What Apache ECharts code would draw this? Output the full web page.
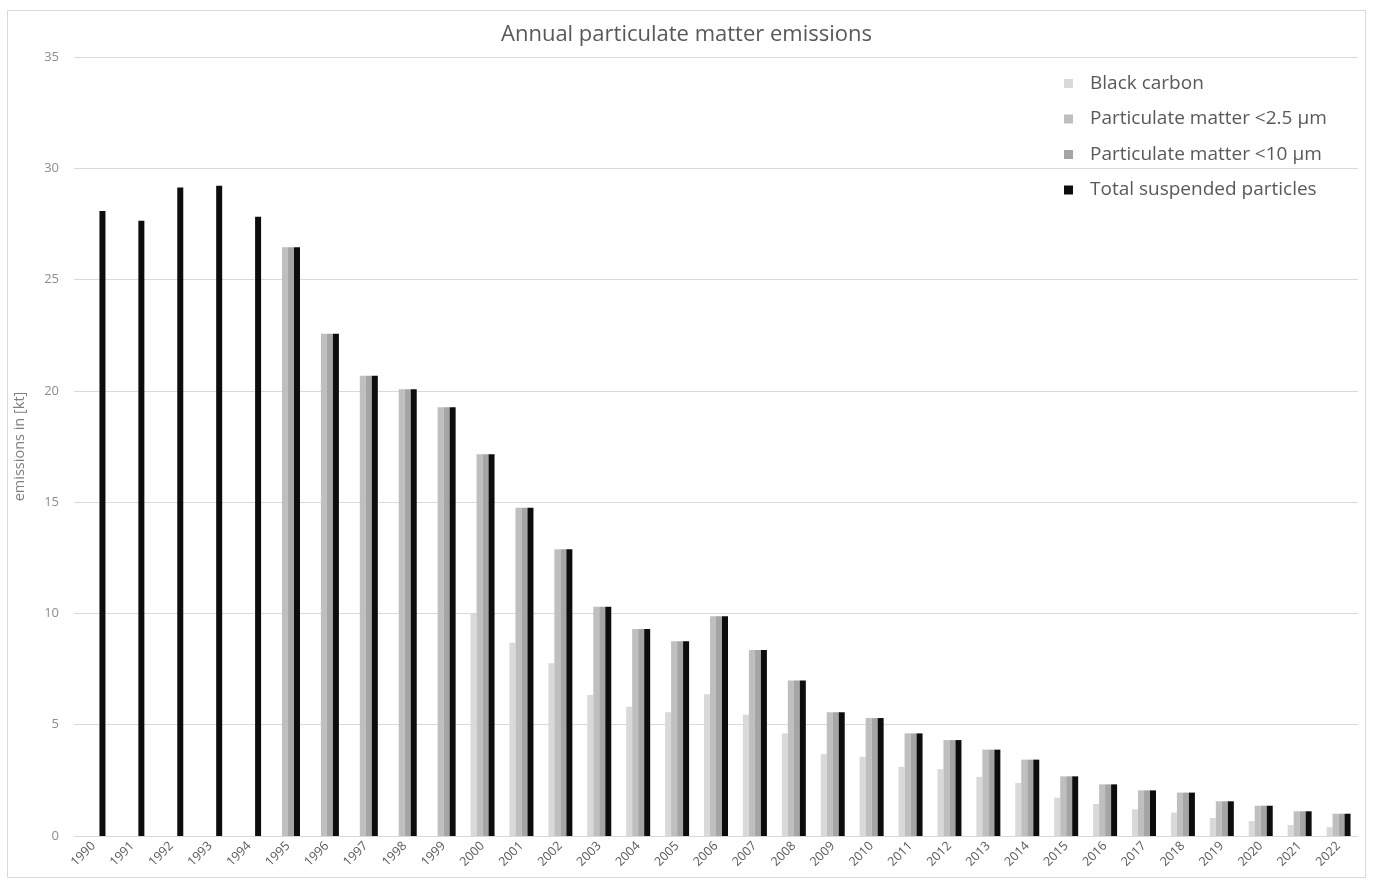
<!DOCTYPE html>
<html>
<head>
<meta charset="utf-8">
<script src="https://cdn.jsdelivr.net/npm/echarts@6/dist/echarts.min.js"></script>
<style>
html,body{margin:0;padding:0;background:#fff;}
#chart{width:1373px;height:881px;}
</style>
</head>
<body>
<div id="chart"></div>
<script>
const years = ['1990','1991','1992','1993','1994','1995','1996','1997','1998','1999','2000','2001','2002','2003','2004','2005','2006','2007','2008','2009','2010','2011','2012','2013','2014','2015','2016','2017','2018','2019','2020','2021','2022'];
const seriesNames = ['Black carbon','Particulate matter <2.5 µm','Particulate matter <10 µm','Total suspended particles'];
const blackCarbon = [null,null,null,null,null,null,null,null,null,null,10.0,8.68,7.76,6.33,5.81,5.56,6.37,5.45,4.61,3.68,3.56,3.11,3.00,2.66,2.38,1.72,1.44,1.20,1.05,0.81,0.67,0.49,0.40];
const pm25 = [null,null,null,null,null,26.45,22.57,20.68,20.07,19.26,17.15,14.75,12.88,10.30,9.30,8.75,9.87,8.36,6.99,5.56,5.30,4.61,4.31,3.88,3.43,2.68,2.32,2.05,1.95,1.56,1.36,1.11,1.00];
const pm10 = [null,null,null,null,null,26.45,22.57,20.68,20.07,19.26,17.15,14.75,12.88,10.30,9.30,8.75,9.87,8.36,6.99,5.56,5.30,4.61,4.31,3.88,3.43,2.68,2.32,2.05,1.95,1.56,1.36,1.11,1.00];
const tsp = [28.08,27.64,29.14,29.21,27.82,26.45,22.57,20.68,20.07,19.26,17.15,14.75,12.88,10.30,9.30,8.75,9.87,8.36,6.99,5.56,5.30,4.61,4.31,3.88,3.43,2.68,2.32,2.05,1.95,1.56,1.36,1.11,1.00];
const yTicks = {min: 0, max: 35, interval: 5};

const colors = ['#d9d9d9','#bfbfbf','#a5a5a5','#0d0d0d'];
const dataSets = [blackCarbon, pm25, pm10, tsp];
const FONT = '"Open Sans", "Noto Sans", sans-serif';

const chart = echarts.init(document.getElementById('chart'), null, {renderer: 'canvas'});
chart.setOption({
  backgroundColor: '#ffffff',
  animation: false,
  color: colors,
  title: {
    text: 'Annual particulate matter emissions',
    left: 'center',
    top: 19,
    textStyle: {fontFamily: FONT, fontSize: 22, fontWeight: 'normal', color: '#595959'}
  },
  legend: {
    orient: 'vertical',
    left: 1059,
    top: 68,
    itemWidth: 9,
    itemHeight: 9,
    itemGap: 14.5,
    icon: 'rect',
    data: seriesNames,
    textStyle: {fontFamily: FONT, fontSize: 19, color: '#595959', padding: [0,0,0,12], lineHeight: 21}
  },
  graphic: [{
    type: 'rect',
    shape: {x: 7.5, y: 10.5, width: 1358, height: 867},
    style: {fill: 'none', stroke: '#d9d9d9', lineWidth: 1},
    silent: true,
    z: -10
  }],
  grid: {left: 74, right: 15, top: 57, bottom: 45, containLabel: false},
  xAxis: {
    type: 'category',
    data: years,
    axisLine: {show: true, lineStyle: {color: '#d9d9d9', width: 1}},
    axisTick: {show: false},
    axisLabel: {rotate: 45, margin: 8, fontFamily: FONT, fontSize: 12.5, color: '#595959', interval: 0}
  },
  yAxis: {
    type: 'value',
    min: yTicks.min,
    max: yTicks.max,
    interval: yTicks.interval,
    name: 'emissions in [kt]',
    nameLocation: 'middle',
    nameGap: 47,
    nameTextStyle: {fontFamily: FONT, fontSize: 14.5, color: '#7f7f7f'},
    axisLine: {show: false},
    axisTick: {show: false},
    axisLabel: {margin: 15, fontFamily: FONT, fontSize: 13, color: '#8c8c8c'},
    splitLine: {lineStyle: {color: '#d9d9d9', width: 1}}
  },
  series: seriesNames.map((name, i) => ({
    name: name,
    type: 'bar',
    data: dataSets[i],
    barWidth: 6,
    barGap: '0%',
    itemStyle: {color: colors[i]}
  }))
});
</script>
</body>
</html>
